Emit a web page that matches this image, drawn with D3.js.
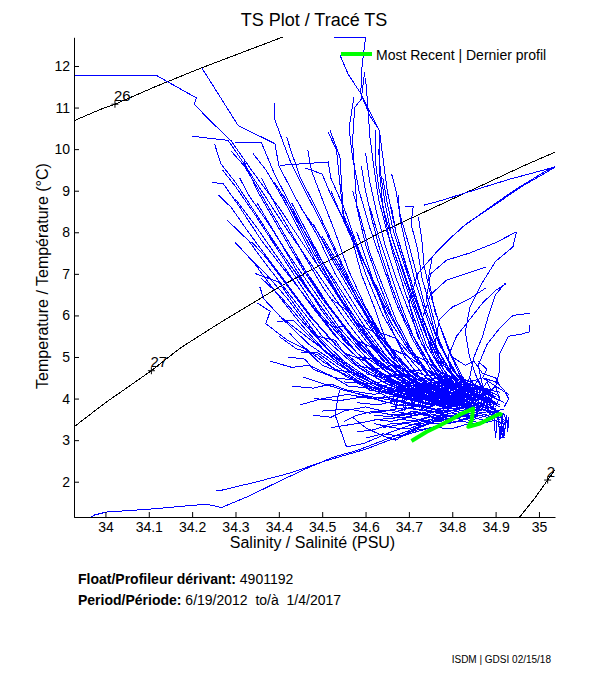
<!DOCTYPE html>
<html>
<head>
<meta charset="utf-8">
<script src="https://cdn.jsdelivr.net/npm/d3@7"></script>
<style>
  body { margin: 0; background: #fff; }
  svg { font-family: "Liberation Sans", Arial, Helvetica, sans-serif; }
  .axis path, .axis line { stroke: #000; }
  .axis text { font-size: 14px; fill: #000; font-family: "Liberation Sans", Arial, sans-serif; }
</style>
</head>
<body>
<svg id="tsPlot" width="611" height="675"></svg>
<script>
// profiles, each point is [salinity, temperature]
var westProfiles = [
  [[33.90,11.77],[34.118,11.77],[34.21,11.23],[34.205,11.08],[34.24,10.7],[34.29,10.2],[34.34,9.45],[34.40,8.6],[34.47,7.5],[34.55,6.3],[34.63,5.2],[34.70,4.5],[34.76,4.1],[34.80,3.85],[34.84,3.7],[34.88,3.6]],
  [[34.222,11.96],[34.306,10.57],[34.391,10.13],[34.40,9.6],[34.44,8.8],[34.49,7.9],[34.53,7.0],[34.59,6.0],[34.66,5.0],[34.73,4.3],[34.79,3.95],[34.83,3.78],[34.87,3.65]],
  [[34.20,10.31],[34.283,10.21],[34.31,9.8],[34.36,9.0],[34.41,8.2],[34.47,7.3],[34.53,6.4],[34.60,5.4],[34.67,4.6],[34.74,4.15],[34.80,3.9],[34.85,3.75]],
  [[34.252,10.12],[34.266,9.65],[34.30,9.2],[34.35,8.4],[34.40,7.6],[34.46,6.7],[34.52,5.9],[34.58,5.1],[34.65,4.5],[34.72,4.1],[34.78,3.92],[34.83,3.8]],
  [[34.246,9.19],[34.271,9.18],[34.31,8.6],[34.36,7.8],[34.42,7.0],[34.48,6.2],[34.54,5.4],[34.61,4.7],[34.68,4.25],[34.75,3.98],[34.81,3.82]],
  [[34.298,7.77],[34.34,7.3],[34.39,6.6],[34.45,5.8],[34.51,5.1],[34.58,4.5],[34.65,4.15],[34.72,3.95],[34.78,3.8]],
  [[34.337,7.77],[34.37,7.4],[34.42,6.7],[34.47,6.0],[34.53,5.3],[34.59,4.7],[34.66,4.3],[34.73,4.0],[34.80,3.85]],
  [[34.391,11.1],[34.391,10.7],[34.425,9.74],[34.46,9.0],[34.50,8.2],[34.54,7.3],[34.58,6.4],[34.63,5.5],[34.69,4.8],[34.75,4.3],[34.80,4.0],[34.85,3.8]],
  [[34.30,10.17],[34.36,10.15],[34.39,9.4],[34.43,8.6],[34.47,7.8],[34.51,7.0],[34.56,6.1],[34.62,5.2],[34.68,4.6],[34.74,4.2],[34.79,3.95]],
  [[34.418,10.29],[34.43,9.9],[34.45,9.3],[34.49,8.5],[34.53,7.6],[34.57,6.7],[34.62,5.8],[34.67,5.0],[34.73,4.4],[34.79,4.05],[34.84,3.85]],
  [[34.467,9.97],[34.475,9.49],[34.50,8.8],[34.53,8.0],[34.56,7.1],[34.60,6.2],[34.65,5.3],[34.70,4.6],[34.76,4.2],[34.82,3.95]],
  [[34.514,10.41],[34.533,9.97],[34.548,8.45],[34.571,7.89],[34.60,7.0],[34.64,6.0],[34.69,5.1],[34.74,4.5],[34.79,4.1],[34.84,3.9]],
  [[34.402,9.61],[34.514,9.69],[34.52,9.3],[34.55,8.6],[34.58,7.7],[34.62,6.7],[34.66,5.8],[34.71,5.0],[34.76,4.4],[34.81,4.05]],
  [[34.345,7.01],[34.40,6.8],[34.44,6.2],[34.49,5.5],[34.55,4.9],[34.62,4.4],[34.69,4.1],[34.76,3.9],[34.82,3.78]],
  [[34.395,5.85],[34.433,5.89],[34.47,5.5],[34.52,5.0],[34.58,4.55],[34.65,4.2],[34.72,3.95],[34.79,3.8]],
  [[34.425,5.57],[34.45,5.3],[34.50,4.9],[34.56,4.5],[34.63,4.2],[34.70,3.98],[34.77,3.85]],
  [[34.452,5.12],[34.49,5.1],[34.53,4.8],[34.58,4.45],[34.64,4.15],[34.71,3.95],[34.78,3.82]],
  [[34.456,4.52],[34.499,4.37],[34.55,4.2],[34.61,4.05],[34.68,3.92],[34.75,3.8]],
  [[34.36,6.89],[34.40,6.5],[34.45,5.9],[34.51,5.2],[34.57,4.7],[34.64,4.3],[34.71,4.05],[34.78,3.88]],
  [[34.356,6.69],[34.365,6.4],[34.41,5.9],[34.47,5.3],[34.54,4.8],[34.61,4.4],[34.69,4.1],[34.76,3.9]],
  [[34.30,8.8],[34.35,8.1],[34.41,7.2],[34.47,6.3],[34.53,5.5],[34.60,4.8],[34.67,4.35],[34.74,4.05],[34.80,3.88]],
  [[34.36,9.3],[34.40,8.5],[34.45,7.6],[34.50,6.7],[34.56,5.8],[34.62,5.0],[34.69,4.45],[34.76,4.1],[34.83,3.9]],
  [[34.43,8.7],[34.47,7.9],[34.51,7.1],[34.56,6.2],[34.61,5.4],[34.67,4.7],[34.73,4.25],[34.79,4.0]],
  [[34.32,9.7],[34.35,9.0],[34.40,8.1],[34.45,7.2],[34.50,6.4],[34.56,5.6],[34.63,4.9],[34.70,4.35],[34.77,4.05],[34.83,3.85]],
  [[34.48,8.2],[34.52,7.4],[34.57,6.5],[34.62,5.7],[34.67,5.0],[34.72,4.5],[34.78,4.15],[34.84,3.9]],
  [[34.38,7.9],[34.42,7.3],[34.47,6.6],[34.52,5.9],[34.57,5.2],[34.63,4.6],[34.70,4.2],[34.77,3.95]],
  [[34.46,9.55],[34.50,9.4],[34.52,8.9],[34.56,8.1],[34.60,7.2],[34.64,6.3],[34.69,5.4],[34.74,4.7],[34.79,4.25],[34.85,3.95]],
  [[34.28,8.3],[34.33,7.8],[34.38,7.1],[34.44,6.3],[34.50,5.5],[34.57,4.85],[34.64,4.4],[34.71,4.1],[34.78,3.9]],
  [[34.41,8.9],[34.44,8.3],[34.48,7.5],[34.53,6.6],[34.58,5.8],[34.64,5.0],[34.70,4.45],[34.77,4.1],[34.83,3.88]],
  [[34.35,8.7],[34.39,8.0],[34.44,7.1],[34.50,6.1],[34.56,5.3],[34.62,4.7],[34.69,4.3],[34.76,4.0]],
  [[34.44,7.4],[34.48,6.8],[34.53,6.0],[34.58,5.3],[34.64,4.7],[34.70,4.3],[34.77,4.0],[34.84,3.82]],
  [[34.31,9.3],[34.33,8.9],[34.37,8.3],[34.42,7.5],[34.48,6.6],[34.54,5.7],[34.60,5.0],[34.67,4.5],[34.74,4.15],[34.81,3.92]],
  [[34.50,7.9],[34.54,7.2],[34.58,6.4],[34.62,5.6],[34.67,4.9],[34.72,4.4],[34.78,4.1],[34.84,3.9]],
  [[34.40,6.0],[34.45,5.6],[34.50,5.2],[34.56,4.75],[34.62,4.4],[34.69,4.1],[34.76,3.92]],
  [[34.47,6.9],[34.51,6.3],[34.56,5.6],[34.61,5.0],[34.66,4.55],[34.72,4.2],[34.79,3.95]],
  [[34.26,8.9],[34.29,8.6],[34.33,8.0],[34.38,7.3],[34.43,6.6],[34.48,5.9],[34.54,5.2],[34.60,4.7],[34.67,4.3],[34.74,4.0]],
  [[34.34,9.9],[34.37,9.5],[34.41,8.8],[34.45,8.0],[34.49,7.2],[34.54,6.4],[34.59,5.6],[34.65,4.9],[34.71,4.4],[34.78,4.1]],
  [[34.39,9.2],[34.42,8.7],[34.46,8.0],[34.50,7.3],[34.55,6.5],[34.60,5.7],[34.65,5.0],[34.71,4.5],[34.77,4.2],[34.83,4.0]],
  [[34.27,9.5],[34.30,9.1],[34.34,8.5],[34.39,7.7],[34.44,6.9],[34.49,6.1],[34.55,5.4],[34.61,4.8],[34.68,4.35],[34.75,4.05]],
  [[34.45,8.6],[34.49,8.0],[34.53,7.3],[34.57,6.6],[34.61,5.9],[34.66,5.2],[34.71,4.6],[34.77,4.25],[34.83,4.0]],
  [[34.33,7.4],[34.37,7.0],[34.42,6.4],[34.47,5.7],[34.53,5.0],[34.59,4.5],[34.66,4.15],[34.73,3.95]],
  [[34.52,9.0],[34.54,8.5],[34.57,7.8],[34.61,7.0],[34.65,6.2],[34.69,5.4],[34.74,4.7],[34.79,4.3],[34.85,4.05]],
  [[34.29,9.95],[34.32,9.6],[34.36,8.9],[34.41,8.0],[34.46,7.1],[34.51,6.3],[34.57,5.5],[34.63,4.85],[34.70,4.4],[34.77,4.1]]
];

var northProfiles = [
  [[34.527,12.68],[34.60,12.68],[34.592,12.0],[34.589,11.34],[34.61,10.8],[34.632,10.45],[34.632,9.49],[34.64,8.6],[34.66,7.6],[34.69,6.6],[34.72,5.7],[34.75,4.9],[34.79,4.3],[34.83,3.95]],
  [[34.541,12.26],[34.56,11.8],[34.589,11.34],[34.61,10.9],[34.632,10.45],[34.64,9.8],[34.65,9.0],[34.67,8.0],[34.70,7.0],[34.73,6.0],[34.76,5.1],[34.79,4.5],[34.82,4.1],[34.86,3.85]],
  [[34.598,11.86],[34.59,11.2],[34.575,11.0],[34.57,10.2],[34.575,9.4],[34.58,8.6],[34.60,7.7],[34.63,6.8],[34.66,6.0],[34.70,5.2],[34.74,4.6],[34.79,4.15],[34.84,3.9]],
  [[34.573,11.25],[34.562,10.5],[34.57,9.8],[34.585,9.0],[34.61,8.1],[34.64,7.2],[34.67,6.3],[34.71,5.4],[34.75,4.7],[34.80,4.2],[34.85,3.92]],
  [[34.60,11.7],[34.604,11.2],[34.61,10.3],[34.62,9.5],[34.63,8.8],[34.65,8.0],[34.68,7.1],[34.71,6.2],[34.74,5.3],[34.78,4.6],[34.82,4.1],[34.87,3.85]],
  [[34.624,10.45],[34.624,9.6],[34.63,9.1],[34.645,8.4],[34.67,7.6],[34.70,6.7],[34.73,5.8],[34.76,5.0],[34.80,4.4],[34.84,4.0]],
  [[34.518,10.45],[34.541,9.81],[34.549,8.37],[34.57,7.8],[34.59,7.0],[34.62,6.2],[34.65,5.3],[34.69,4.6],[34.74,4.2],[34.80,3.95]],
  [[34.60,9.9],[34.61,9.2],[34.625,8.5],[34.645,7.7],[34.67,6.9],[34.70,6.1],[34.73,5.3],[34.77,4.6],[34.81,4.2],[34.86,3.95]],
  [[34.57,9.0],[34.59,8.3],[34.61,7.5],[34.64,6.7],[34.67,5.9],[34.71,5.1],[34.75,4.5],[34.80,4.1],[34.85,3.88]],
  [[34.64,9.3],[34.65,8.7],[34.665,8.0],[34.69,7.2],[34.715,6.4],[34.745,5.6],[34.78,4.9],[34.82,4.3],[34.86,4.0]],
  [[34.61,8.6],[34.63,7.9],[34.655,7.1],[34.68,6.3],[34.71,5.5],[34.75,4.8],[34.79,4.3],[34.84,4.0]],
  [[34.58,8.0],[34.60,7.4],[34.625,6.6],[34.655,5.8],[34.69,5.0],[34.73,4.45],[34.78,4.1],[34.83,3.9]],
  [[34.66,8.6],[34.67,8.0],[34.69,7.3],[34.71,6.5],[34.74,5.7],[34.77,5.0],[34.81,4.4],[34.85,4.05]],
  [[34.69,8.62],[34.71,8.62],[34.705,8.2],[34.72,7.6],[34.73,6.9],[34.75,6.2],[34.77,5.4],[34.80,4.7],[34.84,4.2],[34.88,3.95]],
  [[34.66,9.41],[34.67,9.0],[34.68,8.4],[34.70,7.7],[34.72,6.9],[34.74,6.1],[34.77,5.3],[34.81,4.6],[34.85,4.1]],
  [[34.722,8.37],[34.73,7.8],[34.735,7.2],[34.75,6.5],[34.77,5.8],[34.80,5.0],[34.83,4.4],[34.87,4.0]],
  [[34.63,10.0],[34.635,9.4],[34.645,8.7],[34.66,7.9],[34.685,7.1],[34.71,6.3],[34.74,5.5],[34.78,4.8],[34.82,4.3],[34.86,4.0]],
  [[34.59,9.6],[34.60,9.0],[34.615,8.3],[34.635,7.5],[34.66,6.7],[34.69,5.9],[34.73,5.1],[34.77,4.5],[34.82,4.1]],
  [[34.675,8.9],[34.68,8.3],[34.695,7.6],[34.715,6.8],[34.74,6.0],[34.765,5.2],[34.80,4.6],[34.84,4.15],[34.88,3.9]]
];

var eastProfiles = [
  [[34.734,8.65],[34.78,8.78],[34.825,8.93],[34.93,9.27],[35.037,9.57],[35.03,9.52],[34.96,9.1],[34.89,8.6],[34.833,8.21],[34.79,7.8],[34.754,7.41],[34.745,6.9],[34.76,6.1],[34.79,5.2],[34.82,4.5],[34.86,4.05]],
  [[35.04,9.6],[35.02,9.5],[34.943,9.01],[34.88,8.55],[34.82,8.1],[34.77,7.6],[34.72,7.0],[34.70,6.3],[34.72,5.5],[34.76,4.8],[34.80,4.3],[34.84,3.95]],
  [[34.948,8.01],[34.90,7.75],[34.84,7.5],[34.787,7.33],[34.75,7.0],[34.74,6.4],[34.76,5.6],[34.79,4.9],[34.83,4.3],[34.87,3.95]],
  [[34.948,8.0],[34.94,7.65],[34.90,7.3],[34.87,6.8],[34.841,6.21],[34.83,5.6],[34.84,5.0],[34.86,4.4],[34.88,4.0]],
  [[34.879,7.17],[34.83,7.0],[34.787,6.85],[34.75,6.5],[34.73,5.9],[34.75,5.2],[34.78,4.6],[34.82,4.2],[34.86,3.9]],
  [[34.879,6.67],[34.84,6.4],[34.80,6.2],[34.77,5.9],[34.76,5.3],[34.78,4.7],[34.81,4.3],[34.85,3.95]],
  [[34.922,6.77],[34.90,6.5],[34.885,6.05],[34.87,5.5],[34.85,5.0],[34.84,4.5],[34.86,4.1],[34.89,3.85]],
  [[34.979,6.05],[34.94,6.0],[34.91,5.7],[34.88,5.3],[34.86,4.8],[34.87,4.3],[34.89,3.95]],
  [[34.979,5.77],[34.979,5.61],[34.96,5.55],[34.93,5.5],[34.91,5.1],[34.91,4.69],[34.90,4.3],[34.91,3.95]],
  [[34.925,6.77],[34.90,6.6],[34.87,6.3],[34.84,5.9],[34.81,5.5],[34.79,5.0],[34.80,4.5],[34.83,4.1]]
];

var lowProfiles = [
  [[33.96,1.1],[33.975,1.2],[34.002,1.27],[34.102,1.34],[34.233,1.46],[34.268,1.38],[34.33,1.65],[34.395,1.98],[34.46,2.3],[34.525,2.59],[34.58,2.75],[34.63,2.95],[34.68,3.15],[34.73,3.35],[34.78,3.5],[34.83,3.6]],
  [[34.256,1.78],[34.27,1.8],[34.35,2.0],[34.43,2.22],[34.495,2.46],[34.55,2.63],[34.60,2.78],[34.65,2.98],[34.70,3.15],[34.75,3.3],[34.80,3.45]],
  [[34.54,4.2],[34.535,3.96],[34.53,3.6],[34.556,2.84],[34.596,2.92],[34.65,3.16],[34.70,3.35],[34.75,3.5],[34.80,3.6]],
  [[34.57,3.55],[34.60,3.3],[34.64,3.1],[34.67,3.0],[34.70,3.2],[34.76,3.45],[34.82,3.55]],
  [[34.62,3.4],[34.66,3.3],[34.70,3.27],[34.73,3.4],[34.78,3.55],[34.84,3.6]]
];

var midProfiles = [
  [[34.35,6.3],[34.38,6.1],[34.37,5.8],[34.42,5.4],[34.46,5.2],[34.50,4.8],[34.55,4.6],[34.60,4.3],[34.66,4.2],[34.72,4.0],[34.78,3.95]],
  [[34.42,5.0],[34.46,4.95],[34.48,4.7],[34.53,4.5],[34.57,4.45],[34.61,4.2],[34.67,4.1],[34.73,3.9],[34.80,3.85]],
  [[34.47,5.75],[34.49,5.5],[34.53,5.4],[34.55,5.1],[34.60,4.9],[34.63,4.6],[34.68,4.5],[34.72,4.3],[34.78,4.2],[34.84,4.0]],
  [[34.38,4.9],[34.43,4.75],[34.47,4.8],[34.52,4.55],[34.56,4.3],[34.61,4.25],[34.66,4.0],[34.72,3.85],[34.78,3.7]],
  [[34.50,5.9],[34.53,5.7],[34.55,5.75],[34.58,5.4],[34.62,5.2],[34.64,4.9],[34.69,4.7],[34.73,4.5],[34.79,4.35],[34.85,4.1]],
  [[34.43,4.3],[34.48,4.25],[34.52,4.35],[34.57,4.15],[34.62,4.0],[34.67,3.85],[34.73,3.8],[34.79,3.65]],
  [[34.55,5.3],[34.58,5.0],[34.62,4.95],[34.65,4.7],[34.69,4.6],[34.72,4.35],[34.77,4.25],[34.83,4.05]],
  [[34.40,5.5],[34.44,5.2],[34.49,5.05],[34.53,4.7],[34.58,4.6],[34.62,4.35],[34.68,4.2],[34.74,4.05],[34.80,3.95]],
  [[34.52,6.4],[34.56,6.1],[34.58,5.8],[34.62,5.6],[34.66,5.2],[34.70,5.0],[34.74,4.7],[34.79,4.4],[34.85,4.2]],
  [[34.60,5.9],[34.63,5.6],[34.67,5.45],[34.70,5.1],[34.74,4.9],[34.78,4.6],[34.83,4.4],[34.88,4.2]],
  [[34.48,3.6],[34.52,3.55],[34.55,3.7],[34.60,3.8],[34.64,3.7],[34.69,3.78],[34.74,3.7]],
  [[34.55,3.45],[34.58,3.6],[34.62,3.7],[34.66,3.6],[34.70,3.65],[34.75,3.58]]
];

var deepProfiles = [
  [[34.60,4.3],[34.66,4.15],[34.70,4.25],[34.74,4.05],[34.78,4.15],[34.82,3.95],[34.86,3.85],[34.89,3.7]],
  [[34.58,3.9],[34.63,3.85],[34.67,3.95],[34.72,3.8],[34.76,3.9],[34.80,3.75],[34.85,3.8],[34.90,3.62]],
  [[34.62,3.6],[34.67,3.55],[34.71,3.7],[34.75,3.6],[34.80,3.72],[34.84,3.6],[34.88,3.68],[34.91,3.5]],
  [[34.55,4.4],[34.61,4.35],[34.66,4.45],[34.71,4.3],[34.76,4.2],[34.80,4.05],[34.84,4.1],[34.88,3.9]],
  [[34.66,4.6],[34.70,4.5],[34.73,4.35],[34.77,4.4],[34.81,4.2],[34.85,4.15],[34.88,4.0],[34.90,3.85]],
  [[34.48,4.0],[34.54,3.95],[34.60,4.05],[34.65,3.9],[34.70,3.98],[34.75,3.85],[34.80,3.9],[34.85,3.7]],
  [[34.50,3.7],[34.56,3.75],[34.61,3.65],[34.66,3.72],[34.71,3.6],[34.76,3.68],[34.81,3.55],[34.86,3.6]],
  [[34.64,3.3],[34.69,3.4],[34.73,3.35],[34.77,3.5],[34.81,3.45],[34.85,3.55],[34.88,3.45]],
  [[34.70,4.7],[34.74,4.55],[34.78,4.6],[34.82,4.4],[34.85,4.3],[34.88,4.15],[34.90,4.0]],
  [[34.72,3.95],[34.76,4.1],[34.79,3.85],[34.82,4.0],[34.85,3.8],[34.87,3.95],[34.90,3.75]],
  [[34.74,3.75],[34.77,3.9],[34.80,3.65],[34.83,3.85],[34.86,3.7],[34.89,3.8],[34.92,3.6]],
  [[34.88,3.7],[34.91,3.65],[34.915,3.4],[34.91,3.2],[34.92,3.05],[34.915,3.3],[34.925,3.5],[34.905,3.35]],
  [[34.89,3.75],[34.92,3.62],[34.925,3.45],[34.912,3.25],[34.918,3.1],[34.908,3.0]],
  [[34.905,3.68],[34.91,3.1],[34.915,3.6],[34.92,3.15],[34.925,3.55],[34.93,3.3]],
  [[34.60,4.6],[34.64,4.5],[34.69,4.6],[34.73,4.4],[34.77,4.3],[34.80,4.35],[34.84,4.2]],
  [[34.56,4.2],[34.62,4.1],[34.67,4.2],[34.72,4.1],[34.77,4.0],[34.81,4.12],[34.86,3.95]],
  [[34.66,3.8],[34.70,3.9],[34.74,3.78],[34.78,3.95],[34.82,3.82],[34.86,3.9],[34.90,3.72]],
  [[34.68,3.5],[34.72,3.45],[34.76,3.6],[34.80,3.55],[34.84,3.65],[34.88,3.55],[34.91,3.65]],
  [[34.70,4.1],[34.73,4.2],[34.77,4.05],[34.80,4.2],[34.83,4.05],[34.87,4.1],[34.90,3.9]],
  [[34.76,4.3],[34.79,4.45],[34.82,4.25],[34.85,4.35],[34.88,4.2],[34.91,4.05],[34.90,3.8]],
  [[34.75,3.5],[34.79,3.4],[34.83,3.5],[34.86,3.42],[34.89,3.5],[34.92,3.4]],
  [[34.86,4.9],[34.88,4.7],[34.87,4.5],[34.90,4.4],[34.92,4.2],[34.93,4.0],[34.92,3.8]],
  [[34.52,3.3],[34.58,3.4],[34.63,3.5],[34.69,3.55],[34.74,3.68],[34.80,3.72]],
  [[34.45,3.85],[34.50,4.0],[34.56,4.1],[34.61,4.0],[34.67,4.05],[34.72,3.92]],
  [[34.58,4.8],[34.62,4.7],[34.66,4.8],[34.70,4.65],[34.74,4.7],[34.78,4.5],[34.82,4.45]],
  [[34.80,5.0],[34.83,4.8],[34.85,4.9],[34.87,4.6],[34.90,4.5],[34.91,4.3]],
  [[34.60,3.05],[34.64,3.15],[34.68,3.1],[34.72,3.25],[34.76,3.3],[34.80,3.28],[34.84,3.4]],
  [[34.58,3.2],[34.62,3.25],[34.66,3.4],[34.70,3.42],[34.74,3.55],[34.78,3.62]],
  [[34.62,3.5],[34.66,3.45],[34.70,3.55],[34.74,3.45],[34.78,3.6],[34.82,3.5],[34.86,3.58]],
  [[34.64,3.65],[34.68,3.58],[34.72,3.68],[34.76,3.55],[34.80,3.66],[34.84,3.55],[34.88,3.62]],
  [[34.70,3.35],[34.74,3.42],[34.78,3.38],[34.82,3.46],[34.86,3.38],[34.90,3.48]]
];

var clusterProfiles = [
  [[34.65,4.45],[34.69,4.3],[34.72,4.45],[34.76,4.25],[34.79,4.4],[34.83,4.2],[34.86,4.3],[34.89,4.1]],
  [[34.67,4.0],[34.70,4.15],[34.73,3.95],[34.77,4.15],[34.80,3.98],[34.84,4.15],[34.88,3.95],[34.91,3.8]],
  [[34.68,3.7],[34.72,3.85],[34.75,3.65],[34.79,3.82],[34.82,3.65],[34.86,3.8],[34.90,3.62]],
  [[34.70,4.5],[34.73,4.35],[34.76,4.5],[34.80,4.3],[34.83,4.45],[34.87,4.25],[34.91,4.15]],
  [[34.71,3.9],[34.74,4.05],[34.77,3.88],[34.80,4.05],[34.84,3.9],[34.87,4.02],[34.91,3.85]],
  [[34.73,4.25],[34.76,4.1],[34.79,4.3],[34.83,4.1],[34.86,4.25],[34.89,4.05],[34.92,3.9]],
  [[34.69,3.55],[34.73,3.62],[34.77,3.5],[34.81,3.62],[34.85,3.5],[34.89,3.62],[34.92,3.5]],
  [[34.74,4.5],[34.77,4.38],[34.81,4.55],[34.84,4.4],[34.87,4.5],[34.90,4.3],[34.93,4.1]],
  [[34.64,4.05],[34.68,3.92],[34.71,4.08],[34.75,3.95],[34.78,4.1],[34.82,3.92],[34.86,4.05],[34.90,3.88]],
  [[34.66,3.65],[34.70,3.78],[34.74,3.70],[34.78,3.78],[34.82,3.72],[34.86,3.75],[34.90,3.68]],
  [[34.76,4.0],[34.78,3.75],[34.81,3.88],[34.84,3.72],[34.87,3.88],[34.90,3.70],[34.92,3.75]],
  [[34.62,4.25],[34.66,4.35],[34.70,4.2],[34.74,4.35],[34.78,4.22],[34.82,4.3],[34.86,4.15],[34.90,4.05]]
];

// the solid core of the cloud, where many deep profiles zig-zag over each other
var coreProfiles = [
  [[34.74,4.38],[34.75,3.82],[34.76,4.40],[34.77,3.80],[34.78,4.42],[34.79,3.82],[34.80,4.40],[34.81,3.78],[34.82,4.38],[34.83,3.80],[34.84,4.35],[34.85,3.78],[34.86,4.30],[34.87,3.76],[34.88,4.25],[34.89,3.75]],
  [[34.743,3.85],[34.753,4.35],[34.763,3.84],[34.773,4.41],[34.783,3.80],[34.793,4.38],[34.803,3.79],[34.813,4.36],[34.823,3.78],[34.833,4.33],[34.843,3.77],[34.853,4.30],[34.863,3.75],[34.873,4.25],[34.883,3.74],[34.893,4.15]],
  [[34.747,4.20],[34.757,3.86],[34.767,4.36],[34.777,3.83],[34.787,4.40],[34.797,3.80],[34.807,4.37],[34.817,3.79],[34.827,4.34],[34.837,3.77],[34.847,4.32],[34.857,3.76],[34.867,4.28],[34.877,3.74],[34.887,4.20],[34.897,3.72]],
  [[34.70,4.2],[34.71,3.75],[34.72,4.25],[34.73,3.7],[34.735,4.3],[34.74,3.72]],
  [[34.705,3.8],[34.715,4.3],[34.725,3.78],[34.732,4.22]],
  [[34.66,4.3],[34.67,3.75],[34.68,4.35],[34.69,3.70],[34.70,4.40],[34.71,3.72],[34.72,4.38],[34.73,3.70]],
  [[34.78,4.55],[34.79,4.30],[34.80,4.60],[34.81,4.35],[34.82,4.55],[34.83,4.30],[34.84,4.50],[34.85,4.30],[34.86,4.45],[34.87,4.25],[34.88,4.40],[34.89,4.20],[34.90,4.30]],
  [[34.895,3.7],[34.90,3.05],[34.905,3.7],[34.91,3.02],[34.915,3.65],[34.92,3.1],[34.925,3.6],[34.928,3.2],[34.93,3.55]]
];

// most recent profile (green)
var recentProfile = [[34.706,2.98],[34.741,3.2],[34.772,3.36],[34.802,3.52],[34.822,3.64],[34.841,3.72],[34.848,3.76],[34.845,3.48],[34.837,3.32],[34.864,3.40],[34.902,3.60],[34.91,3.63],[34.915,3.6]];

// sigma-theta isopycnals
var sigma26 = [[33.90,10.56],[33.956,10.81],[33.987,10.95],[34.022,11.08],[34.11,11.48],[34.218,11.94],[34.405,12.68],[34.45,12.86]];
var sigma27 = [[33.90,3.1],[34.0,3.9],[34.106,4.67],[34.172,5.21],[34.256,5.77],[34.402,6.69],[34.51,7.29],[34.629,7.97],[34.856,9.07],[34.967,9.61],[35.06,10.03]];
var sigma28 = [[34.94,0.95],[34.955,1.144],[34.99,1.6],[35.02,2.04],[35.06,2.62]];
var contourLabels = [{label: "26", s: 34.022, t: 11.08}, {label: "27", s: 34.106, t: 4.67}, {label: "28", s: 35.02, t: 2.04}];

var xTicks = [34, 34.1, 34.2, 34.3, 34.4, 34.5, 34.6, 34.7, 34.8, 34.9, 35];
var xTickLabels = ["34", "34.1", "34.2", "34.3", "34.4", "34.5", "34.6", "34.7", "34.8", "34.9", "35"];
var yTicks = [2, 3, 4, 5, 6, 7, 8, 9, 10, 11, 12];

const svg = d3.select("#tsPlot");

// axis limits
var xScale = d3.scaleLinear()
    .domain([33.9275, 35.037])
    .range([74, 555]);
var yScale = d3.scaleLinear()
    .domain([1.144, 12.69])
    .range([517.3, 37.3]);

var line = d3.line()
    .x(function (d) { return xScale(d[0]); })
    .y(function (d) { return yScale(d[1]); });

// clip everything to the axes box
svg.append("clipPath")
    .attr("id", "plotClip")
    .append("rect")
    .attr("x", 74).attr("y", 37)
    .attr("width", 481).attr("height", 480.5);

var plot = svg.append("g").attr("clip-path", "url(#plotClip)");

// density lines
[sigma26, sigma27, sigma28].forEach(function (c) {
    plot.append("path")
        .datum(c)
        .attr("fill", "none")
        .attr("stroke", "#000")
        .attr("stroke-width", 1)
        .attr("shape-rendering", "crispEdges")
        .attr("d", line);
});

contourLabels.forEach(function (c) {
    var px = xScale(c.s), py = yScale(c.t);
    plot.append("path")
        .attr("d", "M" + (px - 3.5) + "," + py + "h7M" + px + "," + (py - 3.5) + "v7")
        .attr("stroke", "#000");
    plot.append("text")
        .attr("x", px - 1)
        .attr("y", py - 3.5)
        .attr("font-size", 15)
        .text(c.label);
});

// all the profiles in blue
var allProfiles = westProfiles.concat(northProfiles, eastProfiles, lowProfiles, midProfiles, deepProfiles, clusterProfiles, coreProfiles);
plot.selectAll("path.profile")
    .data(allProfiles)
    .join("path")
    .attr("class", "profile")
    .attr("fill", "none")
    .attr("stroke", "#0000ff")
    .attr("stroke-width", 1)
    .attr("shape-rendering", "crispEdges")
    .attr("d", line);

plot.append("path")
    .datum(recentProfile)
    .attr("fill", "none")
    .attr("stroke", "#00ff00")
    .attr("stroke-width", 4)
    .attr("stroke-linejoin", "round")
    .attr("d", line);

// axes, ticks inside
svg.append("g")
    .attr("class", "axis")
    .attr("transform", "translate(0,517)")
    .call(d3.axisBottom(xScale)
        .tickValues(xTicks)
        .tickFormat(function (d, i) { return xTickLabels[i]; })
        .tickSizeInner(-5).tickSizeOuter(0).tickPadding(5));

svg.append("g")
    .attr("class", "axis")
    .attr("transform", "translate(74,0)")
    .call(d3.axisLeft(yScale)
        .tickValues(yTicks)
        .tickSizeInner(-5).tickSizeOuter(0).tickPadding(4));

// legend
svg.append("line")
    .attr("x1", 341).attr("x2", 372)
    .attr("y1", 54).attr("y2", 54)
    .attr("stroke", "#00ff00").attr("stroke-width", 4);
svg.append("text")
    .attr("x", 376).attr("y", 59.5)
    .attr("font-size", 14)
    .text("Most Recent | Dernier profil");

// titles
svg.append("text")
    .attr("x", 314).attr("y", 26)
    .attr("text-anchor", "middle")
    .attr("font-size", 18)
    .text("TS Plot / Tracé TS");

svg.append("text")
    .attr("x", 312.5).attr("y", 548)
    .attr("text-anchor", "middle")
    .attr("font-size", 16)
    .text("Salinity / Salinité (PSU)");

svg.append("text")
    .attr("transform", "translate(47.5,276) rotate(-90)")
    .attr("text-anchor", "middle")
    .attr("font-size", 16)
    .text("Temperature / Température (°C)");

// float info
var info1 = svg.append("text").attr("x", 78).attr("y", 584).attr("font-size", 14);
info1.append("tspan").attr("font-weight", "bold").text("Float/Profileur dérivant:");
info1.append("tspan").text(" 4901192");

var info2 = svg.append("text").attr("x", 78).attr("y", 605).attr("font-size", 14);
info2.append("tspan").attr("font-weight", "bold").text("Period/Période:");
info2.append("tspan").attr("xml:space", "preserve").text(" 6/19/2012  to/à  1/4/2017");

svg.append("text")
    .attr("x", 551).attr("y", 663)
    .attr("text-anchor", "end")
    .attr("font-size", 10)
    .text("ISDM | GDSI 02/15/18");
</script>
</body>
</html>
